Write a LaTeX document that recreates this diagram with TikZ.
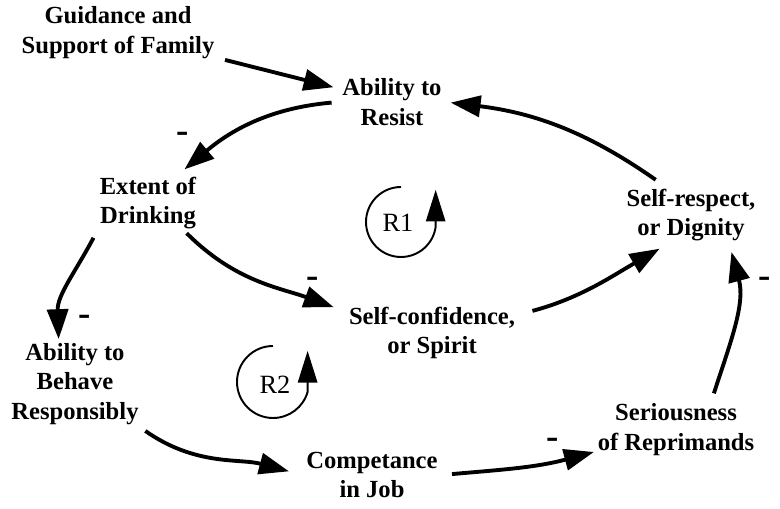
\documentclass[tikz,border=0pt]{standalone}
\usepackage{fontspec}
\setmainfont{Liberation Serif}
\usetikzlibrary{arrows.meta}

\begin{document}
\begin{tikzpicture}[x=0.02cm,y=0.02cm,
  var/.style={align=center,inner sep=2pt,font=\bfseries\fontsize{14}{17}\selectfont},
  link/.style={-{Triangle[length=17pt,width=12pt]},line width=2.2pt},
  sign/.style={font=\bfseries\fontsize{21}{21}\selectfont,inner sep=0pt},
  loopmark/.style={-{Triangle[length=18pt,width=11pt]},line width=1.1pt}]
\useasboundingbox (0,0) rectangle (780,509);
% ---------------- variables ----------------
\node[var] (family) at (118,476) {Guidance and\\Support of Family};
\node[var] (resist) at (392,407) {Ability to\\Resist};
\node[var] (drink) at (148,306) {Extent of\\Drinking};
\node[var] (dignity) at (691,294) {Self-respect,\\or Dignity};
\node[var] (spirit) at (432,176) {Self-confidence,\\or Spirit};
\node[var] (behave) at (75,125) {Ability to\\Behave\\Responsibly};
\node[var] (reprim) at (676,79) {Seriousness\\of Reprimands};
\node[var] (job) at (372,34) {Competance\\in Job};
% ---------------- causal links ----------------
\draw[link,shorten <=4pt,shorten >=3pt] (family) -- (resist);
\draw[link,shorten <=4pt,shorten >=3pt] (resist.west) to[out=185,in=40] (drink.43);
\draw[link,shorten >=7pt] (drink.-38) to[out=-45,in=160] (spirit.166);
\draw[link,shorten <=3pt] (drink.south west) to[out=-118,in=92] (behave.110);
\draw[link,shorten <=2pt,shorten >=8pt] (behave.south east) to[out=-35,in=165] (job.west);
\draw[link,shorten <=6pt] (job.east) to[out=5,in=195] (reprim.195);
\draw[link,shorten <=4pt,shorten >=4pt] (reprim.40) to[out=72,in=-75] (dignity.-38);
\draw[link,shorten <=8pt,shorten >=4pt] (spirit.12) to[out=15,in=210] (dignity.-130);
\draw[link,shorten <=5pt,shorten >=3pt] (dignity.133) to[out=145,in=-7] (resist.east);
% polarity signs
\node[sign] (m1) at (183,372) {-};
\node[sign] (m2) at (313,227) {-};
\node[sign] (m3) at (85,189) {-};
\node[sign] (m4) at (553,66) {-};
\node[sign] (m5) at (765,227) {-};
% ---------------- loop markers ----------------
\node[font=\fontsize{15}{17}\selectfont] (r1) at (398,286) {R1};
\draw[loopmark] ([shift={(3,36)}]r1.center) arc[start angle=90,end angle=352,radius=35] -- ++(0,37);
\node[font=\fontsize{15}{17}\selectfont] (r2) at (275,124) {R2};
\draw[loopmark] ([shift={(-2,39)}]r2.center) arc[start angle=90,end angle=344,radius=36] -- ++(0,41);
\end{tikzpicture}
\end{document}
